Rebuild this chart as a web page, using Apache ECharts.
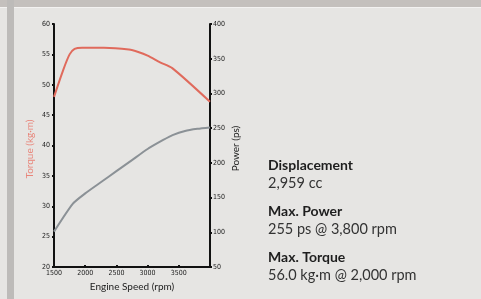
<!DOCTYPE html>
<html><head><meta charset="utf-8">
<script src="https://cdn.jsdelivr.net/npm/echarts@6/dist/echarts.min.js"></script>
<style>html,body{margin:0;padding:0;background:#e6e5e3;}#c{width:481px;height:299px;}</style>
</head><body><div id="c"></div>
<script>
const torqueRpm = [1500, 1650, 1750, 1830, 1950, 2300, 2700, 2850, 3000, 3200, 3400, 4000];
const torqueVals = [48.0, 52.5, 55.0, 55.9, 56.1, 56.1, 55.8, 55.4, 54.8, 53.7, 52.7, 47.2];
const powerRpm = [1500, 1800, 2000, 2250, 2500, 2750, 3000, 3250, 3400, 3600, 3800, 4000];
const powerVals = [101, 141, 156, 172, 188, 204, 220, 233, 240, 246, 249, 251];
const xTicks = [1500, 2000, 2500, 3000, 3500];
const torqueTicks = [20, 25, 30, 35, 40, 45, 50, 55, 60];
const powerTicks = [50, 100, 150, 200, 250, 300, 350, 400];
const infoLines = [
  ['Displacement', '2,959 cc'],
  ['Max. Power', '255 ps @ 3,800 rpm'],
  ['Max. Torque', '56.0 kg·m @ 2,000 rpm']
];

const chart = echarts.init(document.getElementById('c'), null, {renderer: 'canvas'});
const tickFont = {fontFamily: 'DejaVu Sans Condensed', fontSize: 7, color: '#222'};
const axisLine = {show: true, lineStyle: {color: '#111', width: 2}};
const axisTick = {show: true, length: 2, lineStyle: {color: '#111', width: 2}};

const graphics = [
  {type: 'rect', shape: {x: 0, y: 0, width: 481, height: 7}, style: {fill: '#c4c0bd'}, silent: true, z: -10},
  {type: 'rect', shape: {x: 0, y: 7, width: 481, height: 1}, style: {fill: '#f3f2f1'}, silent: true, z: -10},
  {type: 'rect', shape: {x: 7, y: 0, width: 7, height: 299}, style: {fill: '#bdbbb9'}, silent: true, z: -9},
  {type: 'text', x: 30, y: 149, rotation: Math.PI / 2,
   style: {text: 'Torque (kg·m)', font: '10px Lato', fill: '#e8857a', align: 'center', verticalAlign: 'middle'}},
  {type: 'text', x: 236, y: 148.5, rotation: Math.PI / 2,
   style: {text: 'Power (ps)', font: '10px Lato', fill: '#222', align: 'center', verticalAlign: 'middle'}}
];
const rowY = [166, 212, 258];
infoLines.forEach((pair, i) => {
  graphics.push({type: 'text', left: 268, top: rowY[i] - 8, style: {text: pair[0], font: 'bold 14px Lato', fill: '#1e1e1e'}});
  graphics.push({type: 'text', left: 268, top: rowY[i] + 10, style: {text: pair[1], font: '14.5px Lato', fill: '#333'}});
});

chart.setOption({
  backgroundColor: '#e6e5e3',
  animation: false,
  grid: {left: 54, top: 24, right: 271, bottom: 32, containLabel: false},
  xAxis: {
    type: 'value', min: 1500, max: 4000, interval: 500,
    name: 'Engine Speed (rpm)', nameLocation: 'middle', nameGap: 15,
    nameTextStyle: {fontFamily: 'Lato', fontSize: 10, color: '#222'},
    axisLine: axisLine, axisTick: Object.assign({inside: true}, axisTick),
    splitLine: {show: false},
    axisLabel: Object.assign({margin: 3, showMaxLabel: false,
      formatter: v => xTicks.includes(v) ? String(v) : ''}, tickFont)
  },
  yAxis: [
    {
      type: 'value', min: torqueTicks[0], max: torqueTicks[torqueTicks.length - 1], interval: 5,
      position: 'left',
      axisLine: axisLine, axisTick: axisTick, splitLine: {show: false},
      axisLabel: Object.assign({margin: 4}, tickFont)
    },
    {
      type: 'value', min: powerTicks[0], max: powerTicks[powerTicks.length - 1], interval: 50,
      position: 'right',
      axisLine: axisLine, axisTick: axisTick, splitLine: {show: false},
      axisLabel: Object.assign({margin: 3}, tickFont)
    }
  ],
  series: [
    {
      type: 'line', yAxisIndex: 0, showSymbol: false, smooth: 0.25,
      lineStyle: {color: '#e06a5c', width: 2},
      data: torqueRpm.map((r, i) => [r, torqueVals[i]])
    },
    {
      type: 'line', yAxisIndex: 1, showSymbol: false, smooth: 0.2,
      lineStyle: {color: '#8b9196', width: 2},
      data: powerRpm.map((r, i) => [r, powerVals[i]])
    }
  ],
  graphic: graphics
});
</script></body></html>
